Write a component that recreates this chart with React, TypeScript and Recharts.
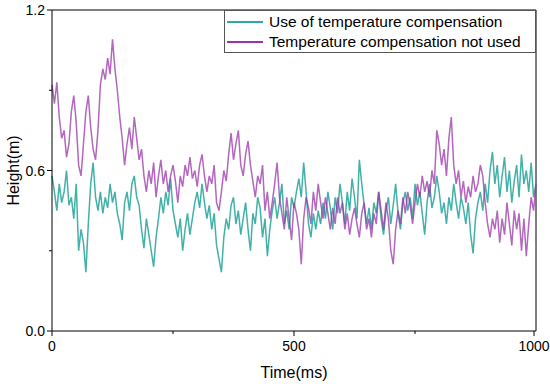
import React from "react";
import { LineChart, Line, XAxis, YAxis, ReferenceLine } from "recharts";

// sampled every 5 ms, 0..1000
const withComp = [
  0.58, 0.52, 0.45, 0.55, 0.48, 0.52, 0.6, 0.47, 0.5, 0.42, 0.55, 0.3, 0.38, 0.33, 0.22, 0.4, 0.55, 0.63, 0.5, 0.45,
  0.52, 0.44, 0.5, 0.46, 0.55, 0.48, 0.52, 0.44, 0.4, 0.34, 0.48, 0.52, 0.45, 0.55, 0.58, 0.5, 0.47, 0.38, 0.31, 0.42,
  0.36, 0.3, 0.24, 0.35, 0.42, 0.5, 0.44, 0.52, 0.47, 0.57, 0.45, 0.4, 0.35, 0.42, 0.3, 0.38, 0.44, 0.36, 0.42, 0.48,
  0.52, 0.46, 0.55, 0.48, 0.42, 0.47, 0.38, 0.44, 0.32, 0.27, 0.22, 0.35, 0.42, 0.38, 0.47, 0.5, 0.4, 0.45, 0.36, 0.42,
  0.48, 0.38, 0.3, 0.44, 0.4, 0.5, 0.46, 0.35, 0.42, 0.28, 0.38, 0.45, 0.5, 0.42, 0.48, 0.55, 0.4, 0.45, 0.38, 0.5,
  0.46, 0.52, 0.57, 0.5, 0.63, 0.52, 0.4, 0.35, 0.44, 0.38, 0.45, 0.4, 0.48, 0.42, 0.52, 0.46, 0.38, 0.5, 0.44, 0.55,
  0.48, 0.4, 0.52, 0.45, 0.57, 0.5, 0.42, 0.64, 0.55, 0.47, 0.4, 0.46, 0.38, 0.48, 0.44, 0.52, 0.42, 0.36, 0.45, 0.5,
  0.4, 0.47, 0.55, 0.44, 0.38, 0.48, 0.52, 0.45, 0.5, 0.42, 0.55, 0.47, 0.52, 0.44, 0.36, 0.48, 0.55, 0.46, 0.5, 0.58,
  0.52, 0.44, 0.48, 0.4, 0.5, 0.45, 0.55, 0.48, 0.42, 0.5, 0.46, 0.4, 0.48, 0.36, 0.29, 0.42, 0.48, 0.52, 0.45, 0.55,
  0.48, 0.6, 0.67, 0.55, 0.62, 0.5, 0.58, 0.65, 0.52, 0.6, 0.48, 0.56, 0.62, 0.5, 0.66, 0.55, 0.6, 0.52, 0.63, 0.5, 0.55,
];

const noComp = [
  0.92, 0.85, 0.93, 0.8, 0.72, 0.75, 0.65, 0.7, 0.82, 0.88, 0.78, 0.62, 0.58, 0.7, 0.82, 0.88, 0.76, 0.68, 0.64, 0.75,
  0.92, 0.98, 0.94, 1.02, 0.96, 1.09, 0.98, 0.9, 0.8, 0.72, 0.62, 0.7, 0.76, 0.68, 0.8, 0.72, 0.64, 0.68, 0.58, 0.52,
  0.6, 0.55, 0.63, 0.5, 0.58, 0.64, 0.55, 0.6, 0.52, 0.58, 0.62, 0.56, 0.48, 0.58, 0.54, 0.62, 0.58, 0.65, 0.57, 0.6,
  0.54, 0.62, 0.66, 0.58, 0.52, 0.58, 0.55, 0.62, 0.48, 0.45, 0.52, 0.6, 0.56, 0.66, 0.74, 0.64, 0.7, 0.75, 0.62, 0.58,
  0.66, 0.71, 0.62, 0.56, 0.5, 0.58, 0.55, 0.62, 0.45, 0.52, 0.42, 0.48, 0.55, 0.63, 0.5, 0.44, 0.38, 0.5, 0.42, 0.34,
  0.48, 0.44, 0.38, 0.25, 0.42, 0.5, 0.46, 0.4, 0.52, 0.45, 0.55, 0.48, 0.42, 0.5, 0.44, 0.38, 0.46, 0.4, 0.5, 0.44,
  0.48, 0.38, 0.44, 0.36, 0.42, 0.46, 0.4, 0.35, 0.44, 0.48, 0.38, 0.42, 0.35, 0.44, 0.4, 0.52, 0.45, 0.38, 0.48, 0.42,
  0.3, 0.25, 0.38, 0.45, 0.4, 0.5, 0.44, 0.52, 0.47, 0.4, 0.48, 0.55, 0.5, 0.58, 0.52, 0.56, 0.5, 0.6, 0.55, 0.75,
  0.7, 0.62, 0.68, 0.58, 0.72, 0.8, 0.62, 0.55, 0.6, 0.5, 0.56, 0.48, 0.54, 0.5, 0.58, 0.52, 0.55, 0.62, 0.58, 0.48,
  0.4, 0.35, 0.42, 0.38, 0.45, 0.33, 0.42, 0.36, 0.48, 0.4, 0.32, 0.45, 0.38, 0.44, 0.3, 0.42, 0.28, 0.4, 0.5, 0.45, 0.55,
];

const xTicks = [0, 250, 500, 750, 1000];
const xLabeled = [0, 500, 1000];
const yTicks = [0, 0.3, 0.6, 0.9, 1.2];
const yLabeled = [0, 0.6, 1.2];

const seriesNames = ["Use of temperature compensation", "Temperature compensation not used"];
const TEAL = "#2fa99f";
const PURPLE = "#9a34a8";
const FONT = "'Liberation Sans', Arial, sans-serif";

const data = withComp.map((v, i) => ({ t: i * 5, used: v, notUsed: noComp[i] }));

function XTick(props: any) {
  const { x, y, payload } = props;
  const major = xLabeled.includes(payload.value);
  return (
    <g>
      <line x1={x} x2={x} y1={y} y2={y + (major ? 5 : 3)} stroke="#000" />
      {major && (
        <text x={x} y={y + 20} textAnchor="middle" fontSize={14} fontFamily={FONT} fill="#000">
          {payload.value}
        </text>
      )}
    </g>
  );
}

function YTick(props: any) {
  const { x, y, payload } = props;
  const major = yLabeled.includes(payload.value);
  return (
    <g>
      <line x1={x} x2={x - (major ? 5 : 3)} y1={y} y2={y} stroke="#000" />
      {major && (
        <text x={x - 7} y={y + 5} textAnchor="end" fontSize={14} fontFamily={FONT} fill="#000">
          {payload.value.toFixed(1)}
        </text>
      )}
    </g>
  );
}

function LegendBox() {
  const colors = [TEAL, PURPLE];
  return (
    <div
      style={{
        position: "absolute",
        left: 224,
        top: 10,
        width: 310,
        height: 41,
        border: "1px solid #555",
        background: "#fff",
        fontFamily: FONT,
        fontSize: 15.5,
        color: "#000",
      }}
    >
      {seriesNames.map((n, i) => (
        <div key={n} style={{ display: "flex", alignItems: "center", height: 20, marginTop: i === 0 ? 1 : 0 }}>
          <div style={{ width: 36, height: 1.5, background: colors[i], marginLeft: 2, marginRight: 6 }} />
          <span>{n}</span>
        </div>
      ))}
    </div>
  );
}

export default function App() {
  return (
    <div style={{ position: "absolute", left: 0, top: 0, width: 550, height: 384, background: "#fff" }}>
      <LineChart width={550} height={384} data={data} margin={{ top: 10, right: 14, bottom: 0, left: 0 }}>
        <XAxis
          dataKey="t"
          type="number"
          domain={[0, 1000]}
          ticks={xTicks}
          tick={<XTick />}
          tickSize={0}
          tickMargin={0}
          tickLine={false}
          height={53}
          axisLine={{ stroke: "#000" }}
          label={{ value: "Time(ms)", position: "insideBottom", offset: 6, fontSize: 16, fontFamily: FONT, fill: "#000" }}
        />
        <YAxis
          type="number"
          domain={[0, 1.2]}
          ticks={yTicks}
          tick={<YTick />}
          tickSize={0}
          tickMargin={0}
          tickLine={false}
          width={52}
          axisLine={{ stroke: "#000" }}
          label={{ value: "Height(m)", angle: -90, position: "insideLeft", offset: 13, fontSize: 16, fontFamily: FONT, fill: "#000", style: { textAnchor: "middle" } }}
        />
        <ReferenceLine x={1000} stroke="#000" ifOverflow="extendDomain" />
        <ReferenceLine y={1.2} stroke="#000" ifOverflow="extendDomain" />
        <Line
          dataKey="used"
          name={seriesNames[0]}
          stroke={TEAL}
          strokeWidth={1.5}
          strokeOpacity={0.9}
          dot={false}
          type="linear"
          isAnimationActive={false}
        />
        <Line
          dataKey="notUsed"
          name={seriesNames[1]}
          stroke={PURPLE}
          strokeWidth={1.5}
          strokeOpacity={0.75}
          dot={false}
          type="linear"
          isAnimationActive={false}
        />
      </LineChart>
      <LegendBox />
    </div>
  );
}
